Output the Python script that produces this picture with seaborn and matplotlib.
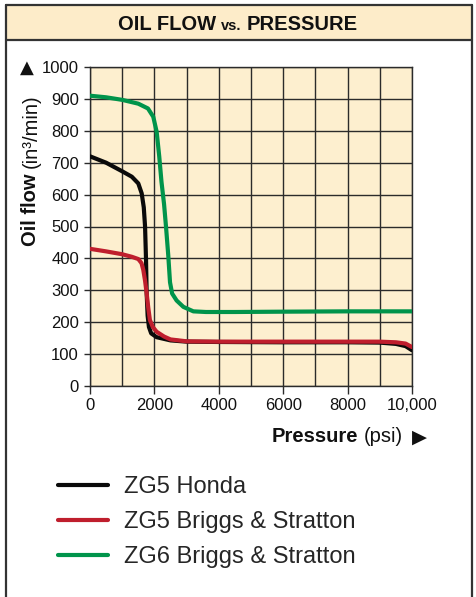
import numpy as np
import pandas as pd
import matplotlib
matplotlib.use("Agg")
import matplotlib.pyplot as plt
from matplotlib.patches import Rectangle
from matplotlib.lines import Line2D
import seaborn as sns

# =====================================================
# Data
# =====================================================

series_names = ["ZG5 Honda", "ZG5 Briggs & Stratton", "ZG6 Briggs & Stratton"]

honda_psi = [0, 500, 1000, 1300, 1500, 1605, 1670, 1710, 1740, 1760, 1790,
             1830, 1900, 2070, 2500, 3000, 4000, 6000, 8000, 9000, 9500,
             9800, 10000]
honda_flow = [720, 700, 673, 656, 635, 604, 560, 500, 395, 290, 220,
              185, 165, 153, 143, 139, 138, 137, 137, 136, 132,
              125, 112]

briggs5_psi = [0, 500, 1000, 1300, 1500, 1600, 1655, 1710, 1760, 1810,
               1860, 1950, 2070, 2300, 2500, 3000, 4000, 6000, 8000, 9000,
               9500, 9800, 10000]
briggs5_flow = [430, 422, 413, 405, 398, 385, 364, 330, 290, 245,
                207, 185, 170, 155, 146, 140, 139, 139, 139, 139,
                137, 133, 122]

briggs6_psi = [0, 500, 1000, 1500, 1800, 1965, 2070, 2150, 2220, 2300,
               2360, 2430, 2485, 2550, 2690, 2900, 3210, 3600, 4500, 6000,
               8000, 10000]
briggs6_flow = [910, 905, 897, 885, 870, 844, 797, 720, 640, 570,
                500, 410, 325, 290, 268, 248, 234, 232, 232, 233,
                234, 234]

colors = ["#0a0a0a", "#bf1e2d", "#00944b"]

x_ticks = [0, 2000, 4000, 6000, 8000, 10000]
x_tick_labels = ["0", "2000", "4000", "6000", "8000", "10,000"]
y_ticks = list(range(0, 1001, 100))

df = pd.concat([
    pd.DataFrame({"psi": honda_psi, "flow": honda_flow, "series": series_names[0]}),
    pd.DataFrame({"psi": briggs5_psi, "flow": briggs5_flow, "series": series_names[1]}),
    pd.DataFrame({"psi": briggs6_psi, "flow": briggs6_flow, "series": series_names[2]}),
], ignore_index=True)

# =====================================================
# Style
# =====================================================

sns.set_theme(style="ticks")
plt.rcParams["font.family"] = ["Liberation Sans", "DejaVu Sans"]

W, H = 476, 597
fig = plt.figure(figsize=(W / 100, H / 100), dpi=100)
renderer = fig.canvas.get_renderer()


def fx(x):
    return x / W


def fy(y):
    return 1 - y / H


def width_px(t):
    return t.get_window_extent(renderer).width


def height_px(t):
    return t.get_window_extent(renderer).height


ax = fig.add_axes([fx(90), fy(386), fx(412) - fx(90), fy(67) - fy(386)])
ax.set_facecolor("#fdefcf")

sns.lineplot(
    data=df, x="psi", y="flow", hue="series",
    palette=dict(zip(series_names, colors)),
    hue_order=series_names, sort=False, estimator=None,
    linewidth=3.0, ax=ax, legend=False, zorder=3
)

ax.set_xlim(0, 10000)
ax.set_ylim(0, 1000)
ax.set_xticks(x_ticks)
ax.set_xticklabels(x_tick_labels)
ax.set_xticks(range(0, 10001, 1000), minor=True)
ax.set_yticks(y_ticks)
ax.grid(True, which="both", color="#2b2b2b", linewidth=1.0, zorder=1)
ax.set_axisbelow(True)
ax.tick_params(axis="both", which="major", labelsize=12, colors="#2b2b2b",
               labelcolor="#111111", width=1.0)
ax.tick_params(axis="x", which="major", length=6, pad=3)
ax.tick_params(axis="y", which="major", length=4, pad=4)
ax.tick_params(which="minor", length=0)
for s in ax.spines.values():
    s.set_color("#2b2b2b")
    s.set_linewidth(1.0)
ax.set_xlabel("")
ax.set_ylabel("")

# =====================================================
# Axis labels
# =====================================================

ylab = fig.text(fx(31), fy(246), "Oil flow", rotation=90, fontsize=14.5,
                fontweight="bold", ha="center", va="bottom", color="#111111")
y_next = 246 - height_px(ylab) - 5
fig.text(fx(31), fy(y_next), "(in³/min)", rotation=90, fontsize=14.5,
         ha="center", va="bottom", color="#111111")
fig.text(fx(27), fy(68), "▲", fontsize=13, ha="center", va="center",
         family=["DejaVu Sans"], color="#111111")

xlab = fig.text(fx(272), fy(437), "Pressure", fontsize=14.5, fontweight="bold",
                ha="left", va="center", color="#111111")
x_next = 272 + width_px(xlab) + 5
psi = fig.text(fx(x_next), fy(437), "(psi)", fontsize=14.5,
               ha="left", va="center", color="#111111")
x_next += width_px(psi) + 9
fig.text(fx(x_next), fy(437), "▶", fontsize=14, ha="left", va="center",
         family=["DejaVu Sans"], color="#111111")

# =====================================================
# Frame + header
# =====================================================

fig.patches.append(Rectangle((fx(6), fy(40)), fx(472) - fx(6), fy(5) - fy(40),
                             transform=fig.transFigure, facecolor="#fdecc9",
                             edgecolor="none", zorder=0))
for xs, ys in [([6, 6], [5, 600]), ([472, 472], [5, 600]),
               ([6, 472], [5, 5]), ([6, 472], [40, 40])]:
    fig.lines.append(Line2D([fx(v) for v in xs], [fy(v) for v in ys],
                            transform=fig.transFigure, color="#333333",
                            linewidth=1.6))

parts = [("OIL FLOW", 14.5), ("vs.", 10.5), ("PRESSURE", 14.5)]
texts = [fig.text(0, fy(30.5), s, fontsize=fs, fontweight="bold",
                  ha="left", va="baseline", color="#111111") for s, fs in parts]
gap = 5
total = sum(width_px(t) for t in texts) + gap * (len(texts) - 1)
x_cur = 238 - total / 2
for t in texts:
    t.set_x(fx(x_cur))
    x_cur += width_px(t) + gap

# =====================================================
# Legend
# =====================================================

handles = [Line2D([], [], color=c, linewidth=3.0) for c in colors]
fig.legend(handles, series_names, loc="upper left",
           bbox_to_anchor=(fx(58), fy(476)), frameon=False, fontsize=17,
           handlelength=2.1, handletextpad=0.7, labelspacing=0.55,
           borderpad=0, borderaxespad=0)

fig.savefig("out.png", dpi=100)
